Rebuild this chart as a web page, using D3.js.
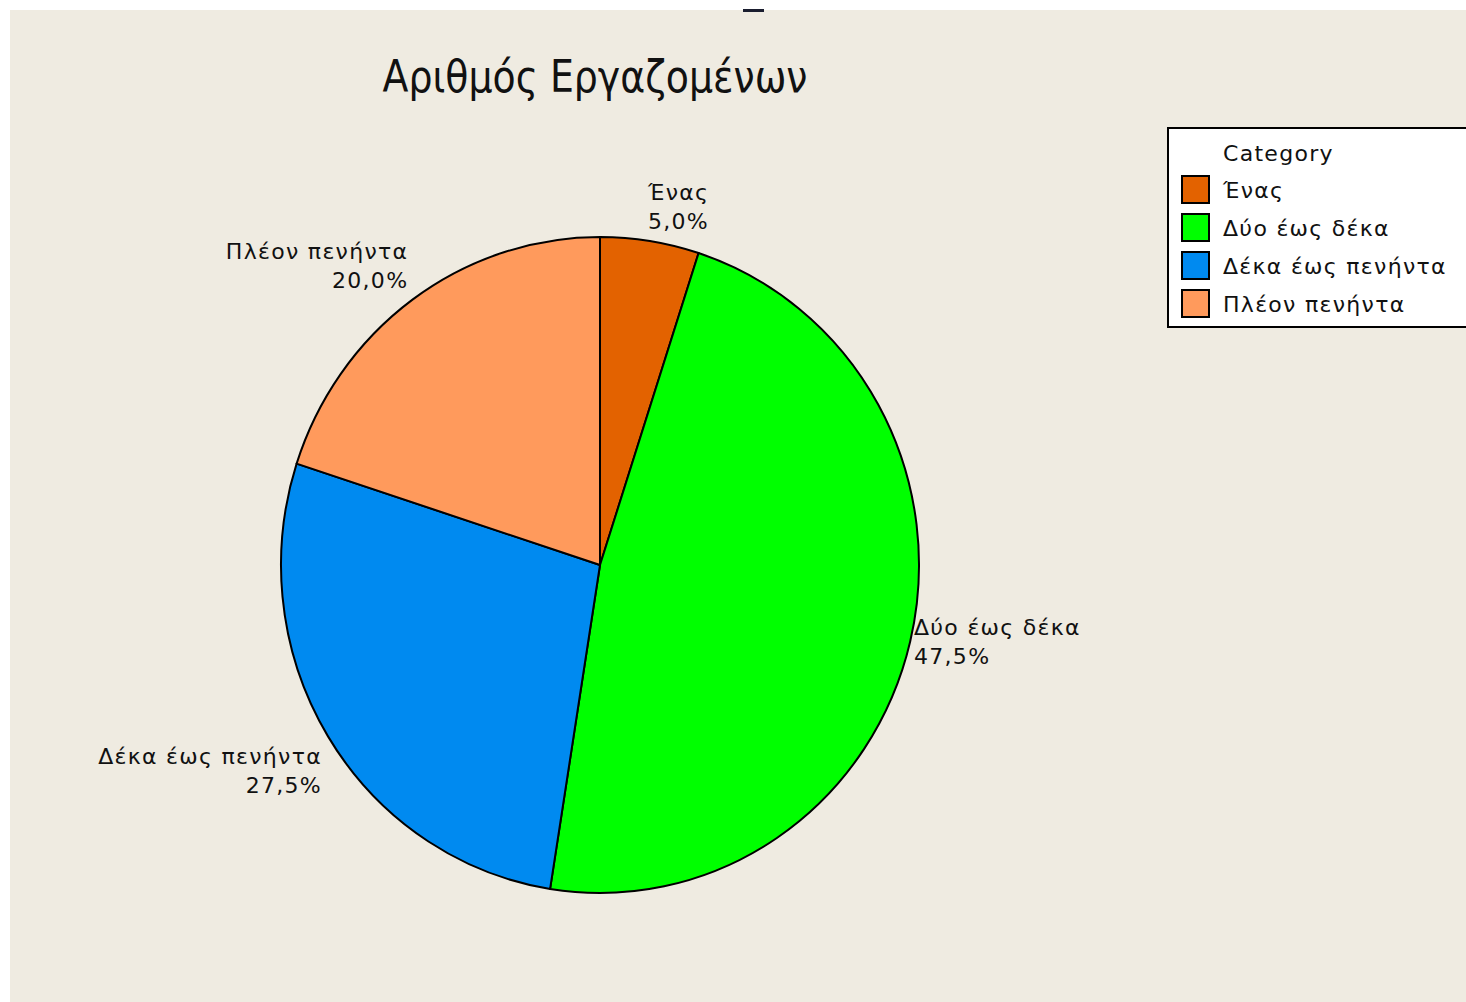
<!DOCTYPE html>
<html>
<head>
<meta charset="utf-8">
<script src="https://cdn.jsdelivr.net/npm/d3@7"></script>
<style>
  html, body { margin: 0; padding: 0; background: #ffffff; }
  svg { display: block; }
  text { font-family: "DejaVu Sans", Verdana, sans-serif; fill: #111; }
  .lbl { letter-spacing: 1.3px; }
</style>
</head>
<body>
<svg id="chart" width="1466" height="1002"></svg>
<script>
// Employee-count shares, in percent
const categories = ["Ένας", "Δύο έως δέκα", "Δέκα έως πενήντα", "Πλέον πενήντα"];
const shares = [5.0, 47.5, 27.5, 20.0];
const sliceColors = ["#e36200", "#00ff00", "#008af0", "#ff9a5c"];
const chartTitle = "Αριθμός Εργαζομένων";
const legendTitle = "Category";

const W = 1466, H = 1002;
const svg = d3.select("#chart");

// Panel background with thin white margin
svg.append("rect").attr("x", 0).attr("y", 0).attr("width", W).attr("height", H).attr("fill", "#ffffff");
svg.append("rect").attr("x", 10).attr("y", 10).attr("width", W - 10).attr("height", H - 10).attr("fill", "#efebe1");
svg.append("rect").attr("x", 743).attr("y", 9).attr("width", 21).attr("height", 3).attr("fill", "#1a1d2e");

// Title
svg.append("text")
  .attr("x", 595).attr("y", 92)
  .attr("text-anchor", "middle")
  .attr("font-size", 44)
  .attr("textLength", 425)
  .attr("lengthAdjust", "spacingAndGlyphs")
  .text(chartTitle);

// Pie geometry (slightly taller than wide)
const cx = 600, cy = 565, rx = 319, ry = 328;
const pie = d3.pie().sort(null).value(d => d);
const arcs = pie(shares);
const arc = d3.arc().innerRadius(0).outerRadius(rx);

const pieG = svg.append("g")
  .attr("transform", `translate(${cx},${cy}) scale(1,${ry / rx})`);

pieG.selectAll("path")
  .data(arcs)
  .join("path")
  .attr("d", arc)
  .attr("fill", (d, i) => sliceColors[i])
  .attr("stroke", "#000")
  .attr("stroke-width", 2)
  .attr("vector-effect", "non-scaling-stroke")
  .attr("stroke-linejoin", "round");

// Slice labels: category name + percent, placed outside the rim at the mid-angle
const fmt = v => d3.format(".1f")(v).replace(".", ",") + "%";
const lineGap = 29, labelSize = 22;
arcs.forEach((d, i) => {
  const a = (d.startAngle + d.endAngle) / 2;
  const s = Math.sin(a), c = Math.cos(a);
  const px = cx + rx * s, py = cy - ry * c;
  const anchor = s >= 0 ? "start" : "end";
  const x = px + 7 * s - (s >= 0 ? 3 : 0);
  let firstBase;
  if (c > 0.3) firstBase = py - 4 - lineGap - 8;         // block above the rim point
  else if (c < -0.3) firstBase = py + 6 + 22;             // block below the rim point
  else firstBase = py - lineGap / 2 + 8;                  // block centred on it
  const t = svg.append("text")
    .attr("class", "lbl")
    .attr("text-anchor", anchor)
    .attr("font-size", labelSize);
  t.append("tspan").attr("x", x).attr("y", firstBase).text(categories[i]);
  t.append("tspan").attr("x", x).attr("y", firstBase + lineGap).text(fmt(shares[i]));
});

// Legend
const lg = svg.append("g");
lg.append("rect")
  .attr("x", 1168).attr("y", 128)
  .attr("width", 310).attr("height", 199)
  .attr("fill", "#ffffff")
  .attr("stroke", "#000").attr("stroke-width", 2);
lg.append("text")
  .attr("class", "lbl")
  .attr("x", 1223).attr("y", 161)
  .attr("font-size", labelSize)
  .text(legendTitle);
const rowY = d3.scalePoint().domain(categories).range([190, 304]);
categories.forEach((name, i) => {
  const y = rowY(name);
  lg.append("rect")
    .attr("x", 1182).attr("y", y - 14)
    .attr("width", 27).attr("height", 27)
    .attr("fill", sliceColors[i])
    .attr("stroke", "#000").attr("stroke-width", 2);
  lg.append("text")
    .attr("class", "lbl")
    .attr("x", 1223).attr("y", y + 8)
    .attr("font-size", labelSize)
    .text(name);
});
</script>
</body>
</html>
